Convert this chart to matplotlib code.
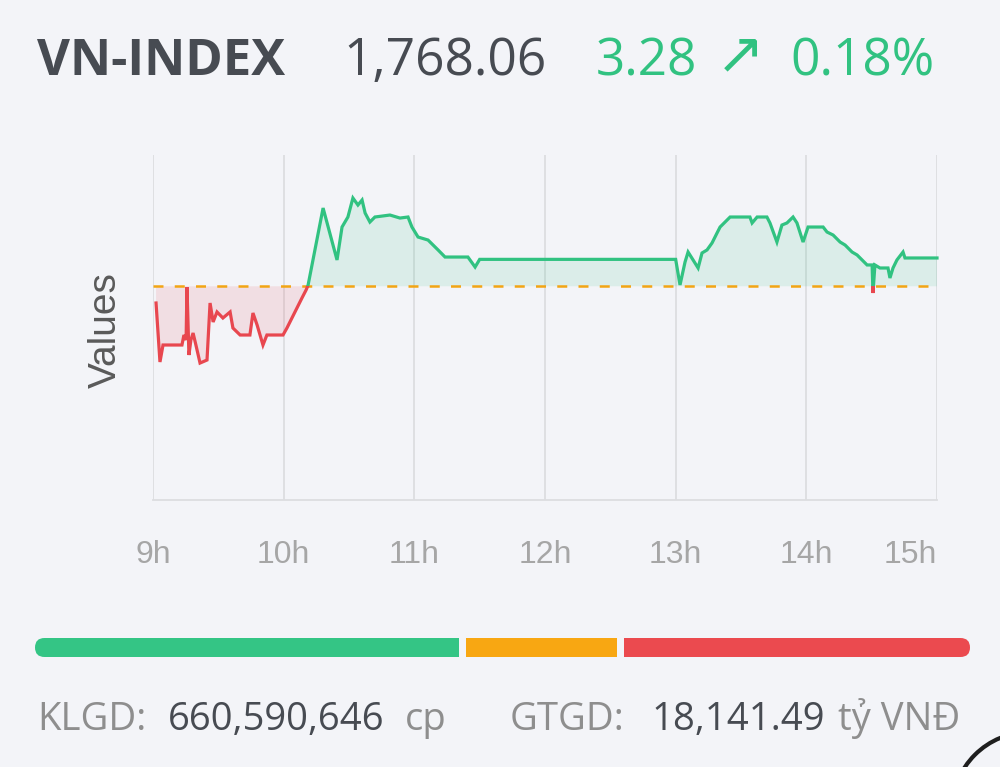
import matplotlib
matplotlib.use("Agg")
import matplotlib.pyplot as plt
from matplotlib.patches import Rectangle, FancyBboxPatch, Circle
import numpy as np

# ---------------- data ----------------
index_name = "VN-INDEX"
index_value = 1768.06
change = 3.28
change_pct = 0.18
reference = 1764.78

times = [
    "9:01:24", "9:03:12", "9:04:36", "9:13:18", "9:14:12", "9:15:12", "9:15:36",
    "9:16:30", "9:17:24", "9:18:24", "9:19:42", "9:21:36", "9:24:48", "9:26:12",
    "9:27:36", "9:29:24", "9:32:06", "9:35:24", "9:36:42", "9:40:00", "9:44:30",
    "9:45:54", "9:47:48", "9:50:30", "9:52:18", "9:59:42", "10:01:30", "10:03:48",
    "10:06:06", "10:08:24", "10:10:18", "10:11:12", "10:18:06", "10:24:30",
    "10:26:48", "10:29:30", "10:31:48", "10:34:06", "10:36:00", "10:37:24",
    "10:39:36", "10:41:54", "10:48:48", "10:53:24", "10:57:06", "10:58:54",
    "11:01:42", "11:06:18", "11:10:54", "11:14:06", "11:24:36", "11:27:54",
    "11:30:00", "13:00:00", "13:02:00", "13:04:18", "13:05:42", "13:08:00",
    "13:10:18", "13:12:06", "13:14:24", "13:16:42", "13:19:00", "13:20:24",
    "13:22:42", "13:25:00", "13:34:06", "13:35:06", "13:37:24", "13:41:54",
    "13:43:18", "13:46:30", "13:48:48", "13:51:06", "13:53:54", "13:55:42",
    "13:58:30", "14:00:48", "14:07:42", "14:09:30", "14:12:18", "14:15:30",
    "14:17:48", "14:21:00", "14:23:18", "14:25:36", "14:27:54", "14:30:12",
    "14:30:36", "14:31:30", "14:33:48", "14:37:30", "14:38:24", "14:39:48",
    "14:41:36", "14:44:24", "14:45:18", "15:00:00",
]
values = [
    1762.84, 1756.00, 1757.97, 1757.97, 1759.13, 1758.55, 1764.69,
    1756.81, 1758.55, 1759.36, 1757.97, 1755.88, 1756.23, 1762.84,
    1760.64, 1761.80, 1761.10, 1761.80, 1759.94, 1759.13, 1759.13,
    1761.68, 1760.29, 1757.97, 1759.13, 1759.13, 1759.94, 1761.10,
    1762.26, 1763.42, 1764.35, 1764.90, 1773.85, 1767.83,
    1771.65, 1772.81, 1775.01, 1774.20, 1774.78, 1773.27,
    1772.23, 1772.81, 1773.04, 1772.69, 1772.81, 1771.65,
    1770.49, 1770.14, 1768.99, 1768.17, 1768.17, 1767.01,
    1767.90, 1767.90, 1764.93, 1767.59, 1768.75, 1767.83,
    1766.90, 1768.64, 1768.99, 1769.80, 1770.96, 1771.65,
    1772.23, 1772.81, 1772.81, 1772.12, 1772.81, 1772.81,
    1772.12, 1769.91, 1771.88, 1772.12, 1772.81, 1772.12,
    1769.91, 1771.65, 1771.65, 1771.07, 1770.72, 1769.91,
    1769.56, 1768.75, 1768.41, 1767.83, 1767.25, 1767.25,
    1764.00, 1767.25, 1766.90, 1766.90, 1765.74, 1766.90,
    1767.83, 1768.75, 1768.06, 1768.06,
]

hour_ticks = [9, 10, 11, 12, 13, 14, 15]
hour_labels = ["9h", "10h", "11h", "12h", "13h", "14h", "15h"]
y_range = (1740, 1780)

breadth_share = [46.0, 16.4, 37.6]   # advancing / unchanged / declining
breadth_colors = ["#34c585", "#f8a712", "#eb4a4f"]

volume_label = "KLGD:"
volume_value = "660,590,646"
volume_unit = "cp"
trade_label = "GTGD:"
trade_value = "18,141.49"
trade_unit = "tỷ VNĐ"

# ---------------- styling ----------------
BG = "#f3f4f8"
GREEN = "#31c281"
RED = "#e8474f"
ORANGE = "#f2a514"
DARK = "#474b52"
GRAY = "#8e8e8e"

def to_hours(s):
    h, m, sec = (int(p) for p in s.split(":"))
    return h + m / 60 + sec / 3600

t = np.array([to_hours(s) for s in times])
v = np.array(values)

fig = plt.figure(figsize=(10, 7.67), dpi=100, facecolor=BG)

# ---------------- header ----------------
hdr_y = 1 - 75 / 767
fig.text(37 / 1000, hdr_y, index_name, fontsize=36.5, fontweight="bold",
         color=DARK, family="Open Sans", va="baseline")
fig.text(343 / 1000, hdr_y, f"{index_value:,.2f}", fontsize=37,
         color=DARK, family="Open Sans", va="baseline")
fig.text(596 / 1000, hdr_y, f"{change:.2f}", fontsize=37,
         color=GREEN, family="Open Sans", va="baseline")
fig.text(716 / 1000, hdr_y + 0.004, "\u2197", fontsize=42,
         color=GREEN, family=["DejaVu Sans"], va="baseline")
fig.text(790 / 1000, hdr_y, f"{change_pct:.2f}%", fontsize=37,
         color=GREEN, family="Open Sans", va="baseline")

# ---------------- main chart ----------------
ax = fig.add_axes([153 / 1000, 1 - 500 / 767, 784 / 1000, 345 / 767])
ax.set_facecolor(BG)
ax.set_xlim(hour_ticks[0], hour_ticks[-1])
ax.set_ylim(*y_range)

ax.fill_between(t, v, reference, where=v >= reference, interpolate=True,
                color=GREEN, alpha=0.12, lw=0)
ax.fill_between(t, v, reference, where=v <= reference, interpolate=True,
                color=RED, alpha=0.12, lw=0)

lg, = ax.plot(t, v, color=GREEN, lw=2.3, solid_joinstyle="miter")
lg.set_clip_path(Rectangle((0, reference), 100, 1000, transform=ax.transData))
lr, = ax.plot(t, v, color=RED, lw=2.3, solid_joinstyle="miter")
lr.set_clip_path(Rectangle((0, 0), 100, reference, transform=ax.transData))

ax.axhline(reference, color=ORANGE, lw=1.8, dashes=(4, 4.5), zorder=1)

ax.set_xticks(hour_ticks)
ax.set_xticklabels(hour_labels)
ax.set_yticks([])
ax.grid(axis="x", color="#dcdde0", lw=1.3)
ax.set_axisbelow(True)
ax.tick_params(axis="x", length=0, pad=29, labelsize=23, labelcolor="#a6a6a6")
for lab in ax.get_xticklabels():
    lab.set_family("Liberation Sans")
ax.get_xticklabels()[-1].set_ha("right")
for s in ("top", "left", "right"):
    ax.spines[s].set_visible(False)
ax.spines["bottom"].set_color("#dcdde0")
ax.spines["bottom"].set_linewidth(1.3)

fig.text(106 / 1000, 1 - 330 / 767, "Values", rotation=90, fontsize=28,
         color="#5a5a5a", family="Liberation Sans", ha="center", va="center")

# ---------------- breadth bar ----------------
bw_px, bh_px, gap = 935, 19, 7
bx = fig.add_axes([35 / 1000, 1 - 657 / 767, bw_px / 1000, bh_px / 767])
bx.set_xlim(0, bw_px)
bx.set_ylim(0, bh_px)
bx.axis("off")
usable = bw_px - gap * (len(breadth_share) - 1)
widths = np.array(breadth_share) / sum(breadth_share) * usable
lefts = np.concatenate([[0], np.cumsum(widths + gap)[:-1]])
track = FancyBboxPatch((0, 0), bw_px, bh_px,
                       boxstyle=f"round,pad=0,rounding_size={bh_px / 2}",
                       transform=bx.transData, fc="none", ec="none")
bx.add_patch(track)
bars = bx.barh(bh_px / 2, widths, left=lefts, height=bh_px, color=breadth_colors)
for b in bars:
    b.set_clip_path(track)

# ---------------- footer ----------------
ft_y = 1 - 730 / 767
fs = 27.5
fig.text(37 / 1000, ft_y, volume_label, fontsize=fs, color=GRAY, family="Open Sans", va="baseline")
fig.text(168 / 1000, ft_y, volume_value, fontsize=fs, color=DARK, family="Open Sans", va="baseline")
fig.text(405 / 1000, ft_y, volume_unit, fontsize=fs, color=GRAY, family="Open Sans", va="baseline")
fig.text(510 / 1000, ft_y, trade_label, fontsize=fs, color=GRAY, family="Open Sans", va="baseline")
fig.text(651 / 1000, ft_y, trade_value, fontsize=fs, color=DARK, family="Open Sans", va="baseline")
fig.text(838 / 1000, ft_y, trade_unit, fontsize=fs, color=GRAY, family="Open Sans", va="baseline")

# corner arc of an overlaid button
fig.add_artist(Circle((10.3, -0.43), 0.78, transform=fig.dpi_scale_trans,
                      fill=False, ec="#1e1e1e", lw=3))

fig.savefig("out.png", dpi=100, facecolor=BG)
